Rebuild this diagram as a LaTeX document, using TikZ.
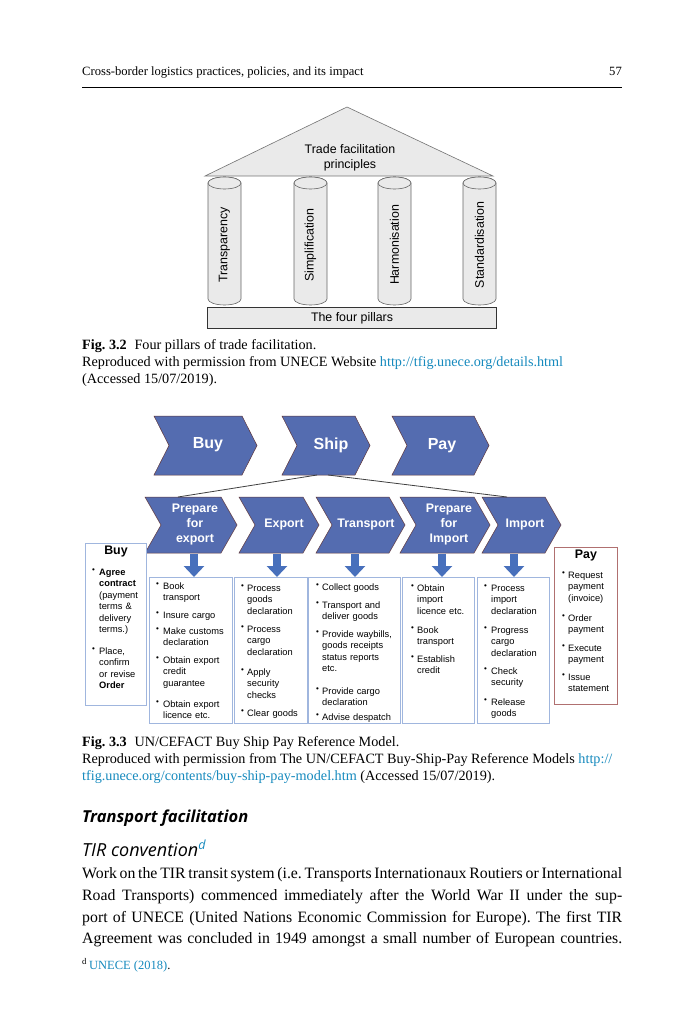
\documentclass[tikz,border=0pt]{standalone}
\usepackage{fontspec}
\setmainfont{Liberation Serif}
\newfontfamily\arialf{Liberation Sans}
\newfontfamily\headf{Open Sans}
\usetikzlibrary{arrows.meta}
\definecolor{chevfill}{RGB}{84,108,176}
\definecolor{chevedge}{RGB}{95,55,60}
\definecolor{arrowblue}{RGB}{72,112,188}
\definecolor{boxedge}{RGB}{160,182,222}
\definecolor{payedge}{RGB}{176,112,112}
\definecolor{linkc}{RGB}{22,138,190}
\definecolor{stone}{RGB}{234,234,234}
\newcommand\chevpath[5]{%
  \filldraw[chevshape] (#1,#3) -- (#2,#3) -- ({#2+#5},{(#3+#4)/2}) -- (#2,#4) -- (#1,#4) -- ({#1+#5},{(#3+#4)/2}) -- cycle;}
\newcommand\bitem[4]{%
  \node[bul] at (#1,{#3-2.4}) {\textbullet};
  \node[itemtext] at (#2,#3) {#4};}
\frenchspacing
\begin{document}
\begin{tikzpicture}[x=1pt,y=-1pt,
  serifline/.style={anchor=base west, inner sep=0pt, font=\fontsize{12.6}{14}\selectfont},
  captext/.style={anchor=base west, inner sep=0pt, font=\fontsize{14.2}{17}\selectfont},
  body/.style={anchor=base west, inner sep=0pt, font=\fontsize{15.8}{19}\selectfont},
  foot/.style={anchor=base west, inner sep=0pt, font=\fontsize{12.5}{14}\selectfont},
  roof/.style={fill=stone, draw=black!55, line width=0.6pt},
  pillar/.style={fill=stone, draw=black!60, line width=0.6pt},
  pillartext/.style={font=\arialf\fontsize{12.4}{14}\selectfont, rotate=90, inner sep=0pt},
  figtext/.style={font=\arialf\fontsize{12.4}{15}\selectfont, align=center, inner sep=0pt},
  chevshape/.style={fill=chevfill, draw=chevedge, line width=0.5pt},
  bigchev/.style={font=\arialf\bfseries\fontsize{16}{18}\selectfont, text=white, inner sep=0pt},
  chevtext/.style={font=\arialf\bfseries\fontsize{12.4}{15}\selectfont, text=white, align=center, inner sep=0pt},
  thinlink/.style={draw=black!75, line width=0.8pt},
  blockarrow/.style={draw=arrowblue, line width=8pt, -{Triangle[width=20pt,length=11pt]}},
  cbox/.style={draw=boxedge, fill=white, line width=0.9pt, anchor=north west, inner sep=0pt},
  pbox/.style={draw=payedge, fill=white, line width=0.9pt, anchor=north west, inner sep=0pt},
  boxhead/.style={font=\arialf\bfseries\fontsize{12.4}{14}\selectfont, inner sep=0pt},
  bul/.style={anchor=base west, inner sep=0pt, font=\arialf\fontsize{8}{8}\selectfont},
  itemtext/.style={anchor=base west, inner sep=0pt, text width=80pt, align=left, font=\arialf\fontsize{9.3}{11.5}\selectfont}
]
\useasboundingbox[fill=white] (0,0) rectangle (682,1024);

% running head
\node[serifline] (head) at (82,76) {Cross-border logistics practices, policies, and its impact};
\node[serifline, anchor=base east] (pageno) at (622,76) {57};
\draw[line width=0.6pt] (82,87) -- (622,87);

% ---------- Fig 3.2 ----------
\filldraw[roof] (205,176) -- (347,107) -- (493,176) -- cycle;
\node[figtext] (principles) at (350,157.5) {Trade facilitation\\principles};
\foreach \cx/\lab/\nm in {224.5/Transparency/p1, 310.5/Simplification/p2, 394.5/Harmonisation/p3, 479.5/Standardisation/p4}{
  \filldraw[pillar] ({\cx-16.5},183) -- ({\cx-16.5},299) arc[start angle=180, end angle=360, x radius=16.5pt, y radius=6pt]
     -- ({\cx+16.5},183) arc[start angle=0, end angle=180, x radius=16.5pt, y radius=6pt] -- cycle;
  \draw[pillar] (\cx,183) ellipse[x radius=16.5pt, y radius=6pt];
  \node[pillartext] (\nm) at (\cx,245) {\lab};
}
\node[draw=black!80, fill=stone, line width=1pt, minimum width=289pt, minimum height=21pt, anchor=north west,
      font=\arialf\fontsize{12.4}{14}\selectfont, inner sep=0pt] (base) at (207,307) {The four pillars};

\node[captext] (c21) at (82,349) {\textbf{Fig. 3.2}\hspace{0.55em}Four pillars of trade facilitation.};
\node[captext] (c22) at (82,366) {Reproduced with permission from UNECE Website \textcolor{linkc}{http://tfig.unece.org/details.html}};
\node[captext] (c23) at (82,383) {(Accessed 15/07/2019).};

% ---------- Fig 3.3 ----------
% top row
\chevpath{154}{242}{416}{475}{15}
\node[bigchev] (buy) at (208,445) {Buy};
\chevpath{282}{355}{416}{475}{15}
\node[bigchev] (ship) at (331,445) {Ship};
\chevpath{392}{474}{416}{475}{15}
\node[bigchev] (pay) at (442,446) {Pay};

% second row
\chevpath{145}{221}{497}{553}{16}
\node[chevtext] (pfe) at (195,525) {Prepare\\for\\export};
\chevpath{239}{303}{497}{553}{16}
\node[chevtext] (exp) at (284,525) {Export};
\chevpath{316}{389}{497}{553}{16}
\node[chevtext] (trn) at (366,525) {Transport};
\chevpath{400}{474}{497}{553}{16}
\node[chevtext] (pfi) at (449,525) {Prepare\\for\\Import};
\chevpath{482}{545}{497}{553}{16}
\node[chevtext] (imp) at (525,525) {Import};

% links from Ship
\coordinate (ship-bl) at (317,475);
\coordinate (ship-br) at (328,475);
\coordinate (pfe-t) at (178,497);
\coordinate (imp-t) at (507,497);
\draw[thinlink] (ship-bl) -- (pfe-t);
\draw[thinlink] (ship-br) -- (imp-t);

% boxes
\node[cbox, minimum width=61pt, minimum height=162pt] (bbuy) at (85,543) {};
\node[cbox, minimum width=83pt, minimum height=146pt] (bpfe) at (149,577) {};
\node[cbox, minimum width=73pt, minimum height=146pt] (bexp) at (234,577) {};
\node[cbox, minimum width=92pt, minimum height=146pt] (btrn) at (308,577) {};
\node[cbox, minimum width=72pt, minimum height=146pt] (bpfi) at (402,577) {};
\node[cbox, minimum width=72pt, minimum height=146pt] (bimp) at (477,577) {};
\node[pbox, minimum width=63pt, minimum height=157pt] (bpay) at (554,547) {};

% block arrows
\coordinate (pfe-b) at (194,553.5);
\coordinate (exp-b) at (277,553.5);
\coordinate (trn-b) at (355,553.5);
\coordinate (pfi-b) at (442,553.5);
\coordinate (imp-b) at (514,553.5);
\draw[blockarrow] (pfe-b) -- (pfe-b |- bpfe.north);
\draw[blockarrow] (exp-b) -- (exp-b |- bexp.north);
\draw[blockarrow] (trn-b) -- (trn-b |- btrn.north);
\draw[blockarrow] (pfi-b) -- (pfi-b |- bpfi.north);
\draw[blockarrow] (imp-b) -- (imp-b |- bimp.north);

% Buy box
\node[boxhead] (buyhead) at (116,552) {Buy};
\bitem{92}{99}{575}{\textbf{Agree}\\\textbf{contract}\\(payment\\terms \&\\delivery\\terms.)}
\bitem{92}{99}{654}{Place,\\confirm\\or revise\\\textbf{Order}}

% Prepare for export box
\bitem{156}{163}{589}{Book\\transport}
\bitem{156}{163}{618}{Insure cargo}
\bitem{156}{163}{634}{Make customs\\declaration}
\bitem{156}{163}{663}{Obtain export\\credit\\guarantee}
\bitem{156}{163}{707}{Obtain export\\licence etc.}

% Export box
\bitem{241}{247}{591}{Process\\goods\\declaration}
\bitem{241}{247}{632}{Process\\cargo\\declaration}
\bitem{241}{247}{675}{Apply\\security\\checks}
\bitem{241}{247}{716}{Clear goods}

% Transport box
\bitem{316}{322}{590}{Collect goods}
\bitem{316}{322}{608}{Transport and\\deliver goods}
\bitem{316}{322}{637}{Provide waybills,\\goods receipts\\status reports\\etc.}
\bitem{316}{322}{694}{Provide cargo\\declaration}
\bitem{316}{322}{720}{Advise despatch}

% Prepare for import box
\bitem{411}{417}{591}{Obtain\\import\\licence etc.}
\bitem{411}{417}{633}{Book\\transport}
\bitem{411}{417}{662}{Establish\\credit}

% Import box
\bitem{484}{491}{591}{Process\\import\\declaration}
\bitem{484}{491}{633}{Progress\\cargo\\declaration}
\bitem{484}{491}{674}{Check\\security}
\bitem{484}{491}{705}{Release\\goods}

% Pay box
\node[boxhead] (payhead) at (586,556) {Pay};
\bitem{562}{568}{578}{Request\\payment\\(invoice)}
\bitem{562}{568}{621}{Order\\payment}
\bitem{562}{568}{651}{Execute\\payment}
\bitem{562}{568}{680}{Issue\\statement}

\node[captext] (c31) at (82,746) {\textbf{Fig. 3.3}\hspace{0.55em}UN/CEFACT Buy Ship Pay Reference Model.};
\node[captext] (c32) at (82,763) {Reproduced with permission from The UN/CEFACT Buy-Ship-Pay Reference Models \textcolor{linkc}{http://}};
\node[captext] (c33) at (82,780) {\textcolor{linkc}{tfig.unece.org/contents/buy-ship-pay-model.htm} (Accessed 15/07/2019).};

% ---------- text ----------
\node[anchor=base west, inner sep=0pt, font=\headf\bfseries\itshape\fontsize{16.5}{20}\selectfont] (h1) at (82,822) {Transport facilitation};
\node[anchor=base west, inner sep=0pt, font=\headf\itshape\fontsize{18}{21}\selectfont] (h2) at (82,856) {TIR convention\textsuperscript{\textcolor{linkc}{d}}};
\node[body] (l1) at (82,878) {\makebox[540pt][s]{Work on the TIR transit system (i.e. Transports Internationaux Routiers or International}};
\node[body] (l2) at (82,900) {\makebox[540pt][s]{Road Transports) commenced immediately after the World War II under the sup-}};
\node[body] (l3) at (82,922) {\makebox[540pt][s]{port of UNECE (United Nations Economic Commission for Europe). The first TIR}};
\node[body] (l4) at (82,943) {\makebox[540pt][s]{Agreement was concluded in 1949 amongst a small number of European countries.}};
\node[foot] (fn) at (82,969) {\textsuperscript{d}\,\textcolor{linkc}{UNECE (2018)}.};
\end{tikzpicture}
\end{document}
